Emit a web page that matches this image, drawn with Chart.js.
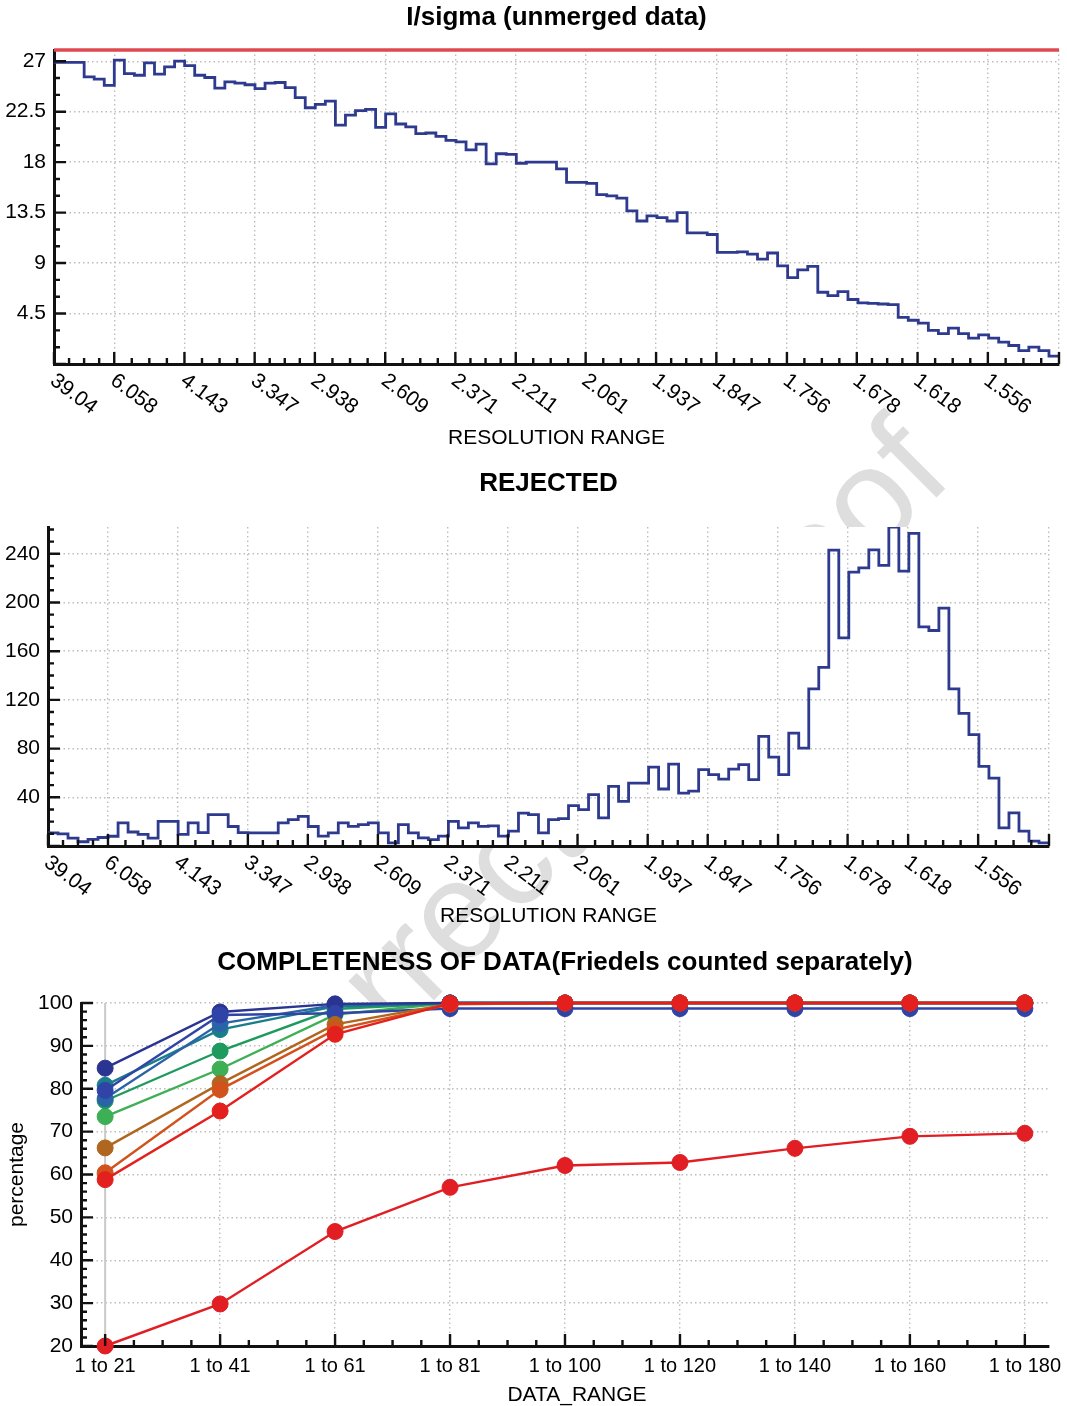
<!DOCTYPE html>
<html lang="en">
<head>
<meta charset="utf-8">
<title>Data processing statistics</title>
<script src="https://cdn.jsdelivr.net/npm/chart.js@4.4.1/dist/chart.umd.min.js"></script>
<style>
  html, body { margin: 0; padding: 0; background: #fff; }
  #page { position: relative; width: 1067px; height: 1406px; overflow: hidden; background: #fff; }
  #page svg, #page canvas { position: absolute; left: 0; }
</style>
</head>
<body>
<div id="page">
  <svg id="stamp" width="1067" height="1406" style="top:0">
    <text x="163" y="1271" transform="rotate(-45 163 1271)"
          font-family="Liberation Sans, Arial, sans-serif" font-size="140" fill="#dedede">Uncorrected proof</text>
  </svg>
  <canvas id="isigma" width="1067" height="460" style="top:0"></canvas>
  <canvas id="rejected" width="1067" height="470" style="top:460px"></canvas>
  <canvas id="completeness" width="1067" height="476" style="top:930px"></canvas>
</div>
<script>
// ---------------- data ----------------
// resolution shells (Å); the x axis is linear in 1/d^2
const resolutionLabels = ['39.04', '6.058', '4.143', '3.347', '2.938', '2.609', '2.371', '2.211',
                          '2.061', '1.937', '1.847', '1.756', '1.678', '1.618', '1.556'];
const resolutionLow = 39.04;
const resolutionHigh = 1.50;

// mean I/sigma per resolution bin (unmerged)
const iOverSigma = [
  26.9, 26.9, 26.9, 25.6, 25.4, 24.85, 27.1, 25.9, 25.75, 26.85,
  25.85, 26.5, 27.0, 26.6, 25.75, 25.55, 24.6, 25.15, 25.05, 24.9,
  24.55, 25.05, 25.1, 24.65, 23.75, 22.85, 23.15, 23.45, 21.3, 22.2,
  22.6, 22.7, 21.1, 22.3, 21.4, 21.15, 20.55, 20.6, 20.3, 19.95,
  19.8, 19.1, 19.6, 17.85, 18.75, 18.7, 17.9, 18.0, 18.0, 18.0,
  17.4, 16.2, 16.2, 16.1, 15.1, 15.0, 14.8, 13.65, 12.75, 13.2,
  13.05, 12.75, 13.5, 11.7, 11.7, 11.55, 9.95, 9.95, 10.0, 9.8,
  9.35, 9.9, 8.75, 7.7, 8.4, 8.7, 6.4, 6.1, 6.45, 5.75,
  5.45, 5.4, 5.35, 5.3, 4.15, 3.9, 3.65, 3.0, 2.7, 3.2,
  2.7, 2.3, 2.6, 2.3, 1.95, 1.65, 1.2, 1.5, 1.2, 0.7
];
const iOverSigmaLimit = 28;
const iOverSigmaTicks = [0, 4.5, 9, 13.5, 18, 22.5, 27];

// rejected reflections per resolution bin
const rejected = [
  10.8, 10.0, 6.5, 3.5, 5.5, 7.0, 8.0, 19.0, 11.5, 9.5,
  6.5, 20.3, 20.3, 9.5, 19.0, 11.0, 25.8, 25.8, 16.0, 11.0,
  10.8, 10.8, 10.8, 19.0, 21.7, 24.4, 16.0, 8.1, 10.8, 19.0,
  16.2, 17.6, 19.0, 10.8, 2.6, 17.6, 10.8, 6.7, 5.3, 8.1,
  20.3, 14.9, 19.0, 16.2, 16.5, 8.1, 12.2, 27.0, 25.8, 10.8,
  21.7, 22.5, 33.2, 29.9, 42.2, 23.1, 49.0, 36.7, 51.7, 51.7,
  64.8, 46.8, 67.3, 43.5, 45.0, 62.7, 58.6, 55.0, 63.2, 66.8,
  54.5, 90.0, 73.0, 58.6, 92.7, 80.4, 129, 146.7, 243, 171,
  225, 228.4, 243.2, 230.5, 262, 225.7, 256.8, 180, 177, 195.4,
  129, 109, 91.4, 65.4, 55.8, 14.9, 27.2, 12.2, 4.0, 2.6
];
const rejectedMax = 262;
const rejectedTicks = [0, 40, 80, 120, 160, 200, 240];

// completeness (%) vs cumulative image range
const dataRanges = ['1 to 21', '1 to 41', '1 to 61', '1 to 81', '1 to 100',
                    '1 to 120', '1 to 140', '1 to 160', '1 to 180'];
const shell1 = [84.8, 97.9, 99.8, 100, 100, 100, 100, 100, 100];
const shell2 = [79.6, 97.2, 97.6, 98.7, 98.7, 98.7, 98.7, 98.7, 98.7];
const shell3 = [77.7, 95.2, 99.5, 100, 100, 100, 100, 100, 100];
const shell4 = [80.8, 93.8, 99.2, 100, 100, 100, 100, 100, 100];
const shell5 = [77.2, 88.8, 98.6, 100, 100, 100, 100, 100, 100];
const shell6 = [73.5, 84.6, 97.3, 100, 100, 100, 100, 100, 100];
const shell7 = [66.2, 81.2, 95.0, 99.8, 100, 100, 100, 100, 100];
const shell8 = [60.4, 79.8, 93.8, 99.7, 100, 100, 100, 100, 100];
const shell9 = [58.8, 74.8, 92.7, 99.9, 100, 100, 100, 100, 100];
const shell10 = [20.0, 29.8, 46.7, 57.0, 62.1, 62.8, 66.1, 68.9, 69.6];
const completenessTicks = [20, 30, 40, 50, 60, 70, 80, 90, 100];

// ---------------- helpers ----------------
const FONT = '"Liberation Sans", Arial, Helvetica, sans-serif';
Chart.defaults.font.family = FONT;
Chart.defaults.color = '#000';

const sLow = 1 / (resolutionLow * resolutionLow);
const sHigh = 1 / (resolutionHigh * resolutionHigh);
const resolutionTicks = resolutionLabels.map(d => 1 / (parseFloat(d) * parseFloat(d))).concat([sHigh]);

function stepPoints(values) {
  const n = values.length, w = (sHigh - sLow) / n;
  const pts = values.map((v, i) => ({ x: sLow + i * w, y: v }));
  pts.push({ x: sHigh, y: values[n - 1] });
  return pts;
}
function between(majors, parts) {
  const out = [];
  for (let i = 0; i < majors.length - 1; i++) {
    for (let k = 1; k < parts; k++) out.push(majors[i] + (majors[i + 1] - majors[i]) * k / parts);
  }
  return out;
}
function every(min, max, step, skipEvery) {
  const out = [];
  for (let v = min; v <= max + 1e-9; v += step) {
    const r = Math.round(v * 1000) / 1000;
    if (skipEvery && Math.abs(r / skipEvery - Math.round(r / skipEvery)) < 1e-6) continue;
    out.push(r);
  }
  return out;
}
const fixedTicks = list => scale => { scale.ticks = list.map(v => ({ value: v })); };

const gridStyle = { color: '#bdbdbd', lineWidth: 1.4, drawTicks: false };
const borderStyle = { color: '#111', width: 3, dash: [1.5, 3] };

// titles, inward tick marks, rotated resolution labels
function decorations(o) {
  return {
    id: 'decorations',
    beforeDraw(chart) {
      const { ctx, chartArea: a } = chart;
      ctx.save();
      ctx.fillStyle = '#fff';
      ctx.fillRect(a.left, a.top, a.right - a.left, a.bottom - a.top);
      ctx.restore();
    },
    beforeDatasetsDraw(chart) {
      if (!o.firstLine) return;
      const { ctx, chartArea: a, scales: { x } } = chart;
      const p = x.getPixelForValue(0);
      ctx.save();
      ctx.strokeStyle = '#c9c9c9';
      ctx.lineWidth = 2;
      ctx.beginPath(); ctx.moveTo(p, a.top); ctx.lineTo(p, a.bottom); ctx.stroke();
      ctx.restore();
    },
    afterDraw(chart) {
      const { ctx, chartArea: a, scales: { x, y } } = chart;
      ctx.save();
      ctx.strokeStyle = '#111';
      ctx.lineWidth = 2.4;
      ctx.beginPath();
      x.ticks.forEach(t => { const p = x.getPixelForValue(t.value); ctx.moveTo(p, a.bottom); ctx.lineTo(p, a.bottom - 12); });
      o.xMinor.forEach(v => { const p = x.getPixelForValue(v); ctx.moveTo(p, a.bottom); ctx.lineTo(p, a.bottom - 6); });
      y.ticks.forEach(t => { const p = y.getPixelForValue(t.value); ctx.moveTo(a.left, p); ctx.lineTo(a.left + 12, p); });
      o.yMinor.forEach(v => { const p = y.getPixelForValue(v); ctx.moveTo(a.left, p); ctx.lineTo(a.left + 6, p); });
      ctx.stroke();

      ctx.fillStyle = '#000';
      ctx.textAlign = 'center';
      ctx.textBaseline = 'middle';
      ctx.font = 'bold 26px ' + FONT;
      ctx.fillText(o.title, (a.left + a.right) / 2, o.titleY);
      ctx.font = '21px ' + FONT;
      ctx.fillText(o.xTitle, o.xTitleX || (a.left + a.right) / 2, o.xTitleY);

      if (o.rotated) {
        ctx.textAlign = 'left';
        ctx.textBaseline = 'alphabetic';
        o.xLabels.forEach(l => {
          const p = x.getPixelForValue(l.value);
          ctx.save();
          ctx.translate(p - 5, a.bottom + 19);
          ctx.rotate(37 * Math.PI / 180);
          ctx.fillText(l.text, 0, 0);
          ctx.restore();
        });
      } else {
        ctx.font = '20px ' + FONT;
        o.xLabels.forEach(l => ctx.fillText(l.text, x.getPixelForValue(l.value), a.bottom + 20));
      }
      if (o.yTitle) {
        ctx.save();
        ctx.font = '21px ' + FONT;
        ctx.translate(17, (a.top + a.bottom) / 2);
        ctx.rotate(-Math.PI / 2);
        ctx.fillText(o.yTitle, 0, 0);
        ctx.restore();
      }
      ctx.restore();
    }
  };
}

const baseOptions = {
  responsive: false,
  animation: false,
  devicePixelRatio: 1,
  events: [],
  plugins: { legend: { display: false }, tooltip: { enabled: false }, title: { display: false } }
};
const resolutionLabelItems = resolutionLabels.map((t, i) => ({ value: resolutionTicks[i], text: t }));

// ---------------- I/sigma ----------------
new Chart(document.getElementById('isigma'), {
  type: 'line',
  data: {
    datasets: [
      { data: stepPoints(iOverSigma), borderColor: '#2d3a8e', borderWidth: 2.8, pointRadius: 0, stepped: 'before' },
      { data: [{ x: sLow, y: iOverSigmaLimit }, { x: sHigh, y: iOverSigmaLimit }],
        borderColor: '#df4a50', borderWidth: 3.5, pointRadius: 0, clip: false }
    ]
  },
  options: Object.assign({}, baseOptions, {
    layout: { padding: { left: 0, right: 8, top: 50, bottom: 0 } },
    scales: {
      x: { type: 'linear', min: sLow, max: sHigh, afterBuildTicks: fixedTicks(resolutionTicks),
           afterFit: s => { s.height = 96; }, ticks: { display: false }, grid: gridStyle, border: borderStyle },
      y: { type: 'linear', min: 0, max: iOverSigmaLimit, afterBuildTicks: fixedTicks(iOverSigmaTicks),
           afterFit: s => { s.width = 54; },
           ticks: { font: { size: 21 }, color: '#000', padding: 8, callback: v => (v === 0 ? '' : String(v)) },
           grid: gridStyle, border: borderStyle }
    }
  }),
  plugins: [decorations({
    title: 'I/sigma (unmerged data)', titleY: 18,
    xTitle: 'RESOLUTION RANGE', xTitleY: 438,
    rotated: true, xLabels: resolutionLabelItems,
    xMinor: between(resolutionTicks, 4), yMinor: every(0, 28, 1.5, 4.5)
  })]
});

// ---------------- rejected ----------------
new Chart(document.getElementById('rejected'), {
  type: 'line',
  data: {
    datasets: [
      { data: stepPoints(rejected), borderColor: '#2d3a8e', borderWidth: 2.8, pointRadius: 0, stepped: 'before' }
    ]
  },
  options: Object.assign({}, baseOptions, {
    layout: { padding: { left: 0, right: 18, top: 67, bottom: 0 } },
    scales: {
      x: { type: 'linear', min: sLow, max: sHigh, afterBuildTicks: fixedTicks(resolutionTicks),
           afterFit: s => { s.height = 84; }, ticks: { display: false }, grid: gridStyle, border: borderStyle },
      y: { type: 'linear', min: 0, max: rejectedMax, afterBuildTicks: fixedTicks(rejectedTicks),
           afterFit: s => { s.width = 48; },
           ticks: { font: { size: 21 }, color: '#000', padding: 8, callback: v => (v === 0 ? '' : String(v)) },
           grid: gridStyle, border: borderStyle }
    }
  }),
  plugins: [decorations({
    title: 'REJECTED', titleY: 24,
    xTitle: 'RESOLUTION RANGE', xTitleY: 456,
    rotated: true, xLabels: resolutionLabelItems,
    xMinor: between(resolutionTicks, 4), yMinor: every(0, rejectedMax, 10, 40)
  })]
});

// ---------------- completeness ----------------
const shellSeries = [
  { values: shell10, color: '#e01e24' },
  { values: shell9, color: '#e3201d' },
  { values: shell8, color: '#d2521c' },
  { values: shell7, color: '#b0661e' },
  { values: shell2, color: '#2f44a6' },
  { values: shell1, color: '#2a3592' },
  { values: shell3, color: '#2b63a8' },
  { values: shell4, color: '#1a7d8b' },
  { values: shell5, color: '#1f9a5e' },
  { values: shell6, color: '#3daf55' }
];
new Chart(document.getElementById('completeness'), {
  type: 'line',
  data: {
    datasets: shellSeries.map((s, i) => ({
      data: s.values.map((v, k) => ({ x: k, y: v })),
      borderColor: s.color, backgroundColor: s.color,
      pointBackgroundColor: s.color, pointBorderColor: s.color,
      borderWidth: 2.4, pointRadius: 8, pointBorderWidth: 1, clip: false, order: i
    }))
  },
  options: Object.assign({}, baseOptions, {
    layout: { padding: { left: 0, right: 18, top: 73, bottom: 0 } },
    scales: {
      x: { type: 'linear', min: -0.21, max: 8.21, afterBuildTicks: fixedTicks(dataRanges.map((d, i) => i)),
           afterFit: s => { s.height = 60; }, ticks: { display: false },
           grid: Object.assign({}, gridStyle, { color: c => (c.tick && c.tick.value === 0 ? 'rgba(0,0,0,0)' : '#bdbdbd') }),
           border: borderStyle },
      y: { type: 'linear', min: 20, max: 100, afterBuildTicks: fixedTicks(completenessTicks),
           afterFit: s => { s.width = 81; },
           ticks: { font: { size: 21 }, color: '#000', padding: 8 },
           grid: gridStyle, border: borderStyle }
    }
  }),
  plugins: [decorations({
    title: 'COMPLETENESS OF DATA(Friedels counted separately)', titleY: 33,
    xTitle: 'DATA_RANGE', xTitleX: 577, xTitleY: 465, yTitle: 'percentage',
    rotated: false, firstLine: true,
    xLabels: dataRanges.map((t, i) => ({ value: i, text: t })),
    xMinor: every(-0.25, 8.25, 0.25, 1).filter(v => v > -0.21 && v < 8.21),
    yMinor: every(20, 100, 2, 10)
  })]
});
</script>
</body>
</html>
